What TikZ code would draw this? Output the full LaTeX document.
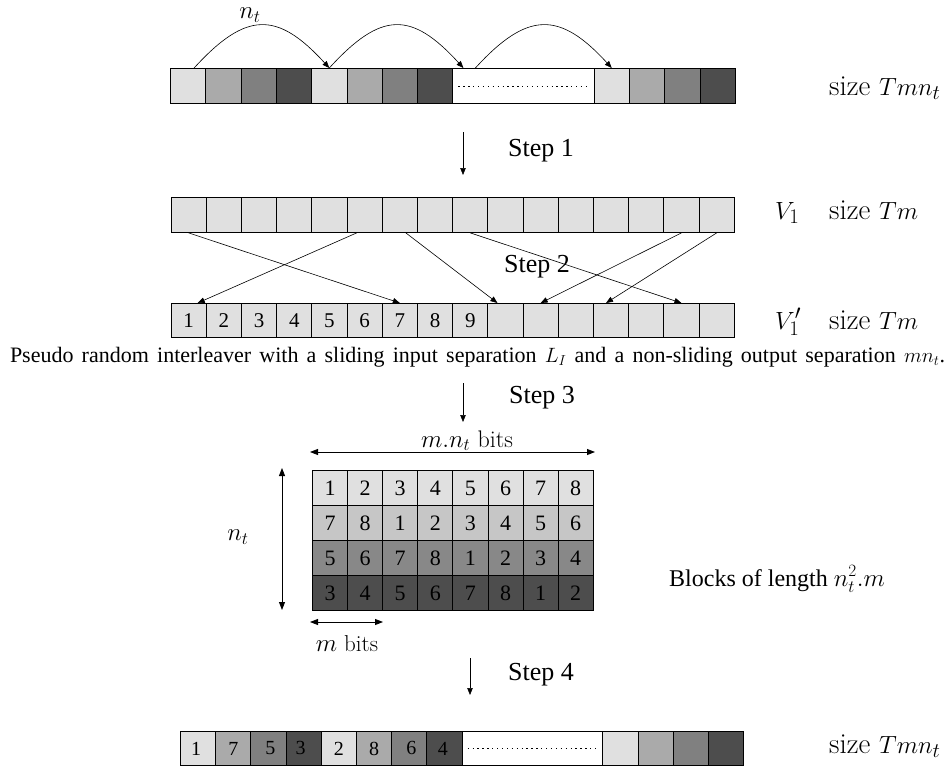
\documentclass[tikz,border=0pt]{standalone}
\usepackage[no-math]{fontspec}
\setmainfont{Liberation Serif}
\usetikzlibrary{arrows.meta}
\definecolor{gA}{RGB}{224,224,224}
\definecolor{gB}{RGB}{170,170,170}
\definecolor{gC}{RGB}{128,128,128}
\definecolor{gD}{RGB}{77,77,77}
\definecolor{mB}{RGB}{198,198,198}
\definecolor{mC}{RGB}{136,136,136}
\newcommand{\cmrm}{\fontfamily{lmr}\selectfont}
\begin{document}
\begin{tikzpicture}[x=1pt,y=-1pt,
  cellbox/.style={draw=black, line width=0.9pt, minimum width=35.2pt, minimum height=35pt,
    inner sep=0pt, anchor=north west, font=\fontsize{21}{21}\selectfont},
  link/.style={line width=0.6pt, -{Triangle[length=7pt,width=5.5pt]}},
  dlink/.style={line width=0.9pt, {Triangle[length=8pt,width=6pt]}-{Triangle[length=8pt,width=6pt]}},
  lbl/.style={inner sep=0pt, font=\cmrm\fontsize{29}{29}\selectfont},
  steplbl/.style={inner sep=0pt, font=\fontsize{26}{26}\selectfont},
]
\useasboundingbox[fill=white] (0,0) rectangle (950,768);

% ---------- top row ----------
\foreach \i/\col in {0/gA,1/gB,2/gC,3/gD,4/gA,5/gB,6/gC,7/gD,12/gA,13/gB,14/gC,15/gD}
  \node[cellbox, fill=\col, minimum width=35.3pt] (t\i) at ({170+35.3*\i},68) {};
\node[cellbox, fill=white, minimum width=141.2pt] (tw) at ({170+35.3*8},68) {};
\draw[line width=0.9pt, dash pattern=on 1.3pt off 3.6pt] ([xshift=6pt]tw.west) coordinate (twl) -- ([xshift=-6pt]tw.east) coordinate (twr);
\draw[link] ([xshift=6pt]t0.north) .. controls +(52,-57) and +(-52,-57) .. (t4.north);
\draw[link] (t4.north) .. controls +(52,-57) and +(-52,-57) .. ([xshift=11pt]tw.north west);
\draw[link] ([xshift=23pt]tw.north west) .. controls +(52,-57) and +(-52,-57) .. (t12.north);
\node[lbl, font=\cmrm\fontsize{25}{25}\selectfont] (nt1) at (250,15) {$n_t$};
\node[lbl, anchor=base west] (sz1) at (829,95) {size $Tmn_t$};

% ---------- step 1 ----------
\coordinate (p1a) at (463,132);
\coordinate (p1b) at (463,175);
\draw[link] (p1a) -- (p1b);
\node[steplbl] (st1) at (541,151) {Step 1};

% ---------- V1 ----------
\foreach \i in {0,...,15}
  \node[cellbox, fill=gA] (a\i) at ({170.6+35.2*\i},197) {};
\node[lbl, anchor=base west] (v1) at (775,219) {$V_1$};
\node[lbl, anchor=base west] (sz2) at (829,219) {size $Tm$};

% ---------- V1' ----------
\foreach \i in {0,...,15}{
  \pgfmathtruncatemacro{\k}{\i+1}
  \ifnum\i<9
    \node[cellbox, fill=gA, minimum height=34pt] (b\i) at ({170.6+35.2*\i},303) {\k};
  \else
    \node[cellbox, fill=gA, minimum height=34pt] (b\i) at ({170.6+35.2*\i},303) {};
  \fi
}
\node[lbl, anchor=base west] (v1p) at (775,329) {$V_1'$};
\node[lbl, anchor=base west] (sz3) at (829,329) {size $Tm$};

\draw[link] (a0.south) -- (b6.north);
\draw[link] ([xshift=-8pt]a5.south) -- ([xshift=9pt]b0.north);
\draw[link] ([xshift=6pt]a6.south) -- ([xshift=-8pt]b9.north);
\draw[link] (a8.south) -- (b14.north);
\draw[link] (a14.south) -- (b10.north);
\draw[link] (a15.south) -- ([xshift=-5pt]b12.north);
\node[steplbl] (st2) at (537,267) {Step 2};

% ---------- caption ----------
\node[inner sep=0pt, font=\fontsize{22}{22}\selectfont] (cap) at (477.5,357)
  {\makebox[935pt][s]{Pseudo random interleaver with a sliding input separation $L_I$ and a non-sliding output separation $mn_t$.}};

% ---------- step 3 ----------
\coordinate (p3a) at (463,383);
\coordinate (p3b) at (463,422);
\draw[link] (p3a) -- (p3b);
\node[steplbl] (st3) at (542,398) {Step 3};

% ---------- matrix ----------
\foreach \r/\col in {0/gA,1/mB,2/mC,3/gD}{
  \foreach \c in {0,...,7}{
    \pgfmathtruncatemacro{\v}{mod(\c-2*\r+16,8)+1}
    \node[cellbox, fill=\col, minimum width=35.1pt, font=\fontsize{22}{22}\selectfont] (m\r\c) at ({312+35.1*\c},{470+35*\r}) {\v};
  }
}
\coordinate (hw) at (310,452);
\coordinate (he) at (595,452);
\draw[dlink] (hw) -- (he);
\node[lbl, anchor=base, font=\cmrm\fontsize{24}{24}\selectfont] (mnt) at (467,447) {$m.n_t$ bits};
\coordinate (vn) at (282,468);
\coordinate (vs) at (282,610);
\draw[dlink] (vn) -- (vs);
\node[lbl, font=\cmrm\fontsize{24}{24}\selectfont] (nt2) at (238,537) {$n_t$};
\coordinate (bw) at (310,622);
\coordinate (be) at (383,622);
\draw[dlink] (bw) -- (be);
\node[lbl, anchor=base, font=\cmrm\fontsize{23}{23}\selectfont] (mb) at (347,651) {$m$ bits};
\node[inner sep=0pt, anchor=base west, font=\fontsize{24}{24}\selectfont] (blk) at (669,586) {Blocks of length $n_t^2.m$};

% ---------- step 4 ----------
\coordinate (p4a) at (470,658);
\coordinate (p4b) at (470,695);
\draw[link] (p4a) -- (p4b);
\node[steplbl] (st4) at (541,675) {Step 4};

% ---------- bottom row ----------
\foreach \i/\col/\n/\dx in {0/gA/1/-4,1/gB/7/0,2/gC/5/4,3/gD/3/-6,4/gA/2/0,5/gB/8/0,6/gC/6/4,7/gD/4/-3}
  \node[cellbox, fill=\col, minimum height=34pt, font=\fontsize{20}{20}\selectfont] (z\i) at ({180+35.2*\i},731) {\hspace*{\dx pt}\n};
\foreach \i/\col in {12/gA,13/gB,14/gC,15/gD}
  \node[cellbox, fill=\col, minimum height=34pt] (z\i) at ({180+35.2*\i},731) {};
\node[cellbox, fill=white, minimum height=34pt, minimum width=140.8pt] (zw) at ({180+35.2*8},731) {};
\draw[line width=0.9pt, dash pattern=on 1.3pt off 3.6pt] ([xshift=6pt]zw.west) coordinate (zwl) -- ([xshift=-6pt]zw.east) coordinate (zwr);
\node[lbl, anchor=base west] (sz4) at (829,753) {size $Tmn_t$};
\end{tikzpicture}
\end{document}
